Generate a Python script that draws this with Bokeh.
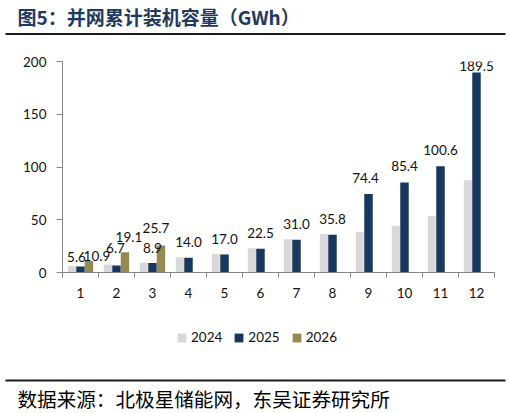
from bokeh.plotting import figure
from bokeh.layouts import column
from bokeh.models import (Range1d, FixedTicker, ColumnDataSource, LabelSet, Label,
                          Legend, LegendItem, BoxAnnotation)
from bokeh.transform import dodge
from bokeh.core.properties import value
from bokeh.embed import file_html
from bokeh.resources import INLINE

# ---------------- data ----------------
months = ["1", "2", "3", "4", "5", "6", "7", "8", "9", "10", "11", "12"]
cap_2024 = [6.2, 7.5, 9.2, 14.5, 17.6, 23.0, 31.6, 36.4, 38.7, 44.3, 53.5, 87.5]
cap_2025 = [5.6, 6.7, 8.9, 14.0, 17.0, 22.5, 31.0, 35.8, 74.4, 85.4, 100.6, 189.5]
cap_2026 = [10.9, 19.1, 25.7]
series_names = ["2024", "2025", "2026"]
y_ticks = [0, 50, 100, 150, 200]
title_text = "图5：并网累计装机容量（GWh）"
source_text = "数据来源：北极星储能网，东吴证券研究所"

# ---------------- style ----------------
C24, C25, C26 = "#D9D9D9", "#17375E", "#948A54"
AXIS_C = "#868686"
TXT_C = "#111111"
FONT = "Lato"
CJK = "Noto Sans CJK SC"
FS = "13.5px"
BAR_W = 0.235
W = 510
H_TOP, H_MAIN, H_BOT = 36, 284, 93
# label nudges (px), style only
nudge_x_2025 = [-4, -1, 0, 0, 0, 0, 0, 0, -3, 0, 0, 0]
nudge_y_2025 = [5, 12, 10, 11, 11, 11, 11, 11, 11, 11, 11, 2]
nudge_x_2026 = [8, 4, -5]
nudge_y_2026 = [0, 10, 12]


def no_align(f):
    if "frame_align" in f.properties():
        f.frame_align = False
    return f


def blank_fig(h):
    f = figure(width=W, height=h, output_backend="svg", toolbar_location=None,
               x_range=Range1d(0, W), y_range=Range1d(h, 0),
               x_axis_type=None, y_axis_type=None, min_border=0)
    f.outline_line_color = None
    f.xgrid.grid_line_color = None
    f.ygrid.grid_line_color = None
    f.background_fill_color = "white"
    f.border_fill_color = "white"
    return no_align(f)


# ---------------- title strip ----------------
ft = blank_fig(H_TOP)
ft.add_layout(Label(x=17, y=16, text=title_text, text_font=CJK, text_font_style="bold",
                    text_font_size="19px", text_color="#1F3A60", text_baseline="middle"))
ft.add_layout(BoxAnnotation(left=5, right=505, top=32.5, bottom=34.5,
                            fill_color="#1a1a1a", fill_alpha=1, line_color=None))

# ---------------- main chart ----------------
pos = list(range(1, len(months) + 1))

p = figure(width=W, height=H_MAIN, output_backend="svg", toolbar_location=None,
           x_range=Range1d(0.5, len(months) + 0.5), y_range=Range1d(0, 200),
           min_border_left=62, min_border_right=16, min_border_top=25,
           min_border_bottom=48)
no_align(p)
p.outline_line_color = None
p.xgrid.grid_line_color = None
p.ygrid.grid_line_color = None
p.background_fill_color = "white"
p.border_fill_color = "white"

src24 = ColumnDataSource(dict(x=pos, v=cap_2024))
src25 = ColumnDataSource(dict(x=pos, v=cap_2025, lab=[f"{v:.1f}" for v in cap_2025],
                              dx=nudge_x_2025, dy=nudge_y_2025))
src26 = ColumnDataSource(dict(x=pos[:len(cap_2026)], v=cap_2026,
                              lab=[f"{v:.1f}" for v in cap_2026],
                              dx=nudge_x_2026, dy=nudge_y_2026))

p.vbar(x=dodge("x", -BAR_W, range=p.x_range), top="v", width=BAR_W, source=src24,
       fill_color=C24, line_color=None)
p.vbar(x=dodge("x", 0, range=p.x_range), top="v", width=BAR_W, source=src25,
       fill_color=C25, line_color=None)
p.vbar(x=dodge("x", BAR_W, range=p.x_range), top="v", width=BAR_W, source=src26,
       fill_color=C26, line_color=None)

for src, off in ((src25, 0), (src26, BAR_W)):
    p.add_layout(LabelSet(x=dodge("x", off, range=p.x_range), y="v", text="lab", source=src,
                          x_offset="dx", y_offset="dy", text_align="center",
                          text_baseline="alphabetic", text_font=value(FONT),
                          text_font_size=value(FS), text_color=TXT_C))

xa = p.xaxis[0]
xa.ticker = FixedTicker(ticks=pos, minor_ticks=[i + 0.5 for i in range(0, len(months) + 1)])
xa.major_label_overrides = {i: m for i, m in zip(pos, months)}
xa.axis_line_color = AXIS_C
xa.major_tick_line_color = None
xa.major_tick_out = 5
xa.major_tick_in = 0
xa.minor_tick_line_color = AXIS_C
xa.minor_tick_out = 5
xa.minor_tick_in = 0
xa.major_label_standoff = 10
xa.major_label_text_font = FONT
xa.major_label_text_font_size = FS
xa.major_label_text_color = TXT_C

ya = p.yaxis[0]
ya.ticker = FixedTicker(ticks=y_ticks)
ya.axis_line_color = AXIS_C
ya.major_tick_line_color = AXIS_C
ya.major_tick_out = 6
ya.major_tick_in = 0
ya.minor_tick_line_color = None
ya.major_label_standoff = 10
ya.major_label_text_font = FONT
ya.major_label_text_font_size = FS
ya.major_label_text_color = TXT_C

# ---------------- legend + source strip ----------------
fb = blank_fig(H_BOT)
# zero-size stand-in glyphs carrying each series' colour for the legend
lr = [fb.vbar(x=[0], top=[0], bottom=[0], width=0, fill_color=c, line_color=None)
      for c in (C24, C25, C26)]
legend = Legend(items=[LegendItem(label=n, renderers=[r]) for n, r in zip(series_names, lr)],
                orientation="horizontal", location=(176, H_BOT - 25), padding=0, margin=0,
                spacing=11, glyph_width=11, glyph_height=11, label_standoff=4,
                label_height=11, label_text_font=FONT, label_text_font_size=FS,
                label_text_color=TXT_C, border_line_color=None,
                background_fill_alpha=0)
fb.add_layout(legend, "center")
fb.add_layout(BoxAnnotation(left=5, right=505, top=59, bottom=61,
                            fill_color="#1a1a1a", fill_alpha=1, line_color=None))
fb.add_layout(Label(x=17, y=78, text=source_text, text_font=CJK, text_font_size="19.6px",
                    text_color="#000000", text_baseline="middle"))

layout = column(ft, p, fb, spacing=0)
open("out.html", "w").write(file_html(layout, INLINE))
